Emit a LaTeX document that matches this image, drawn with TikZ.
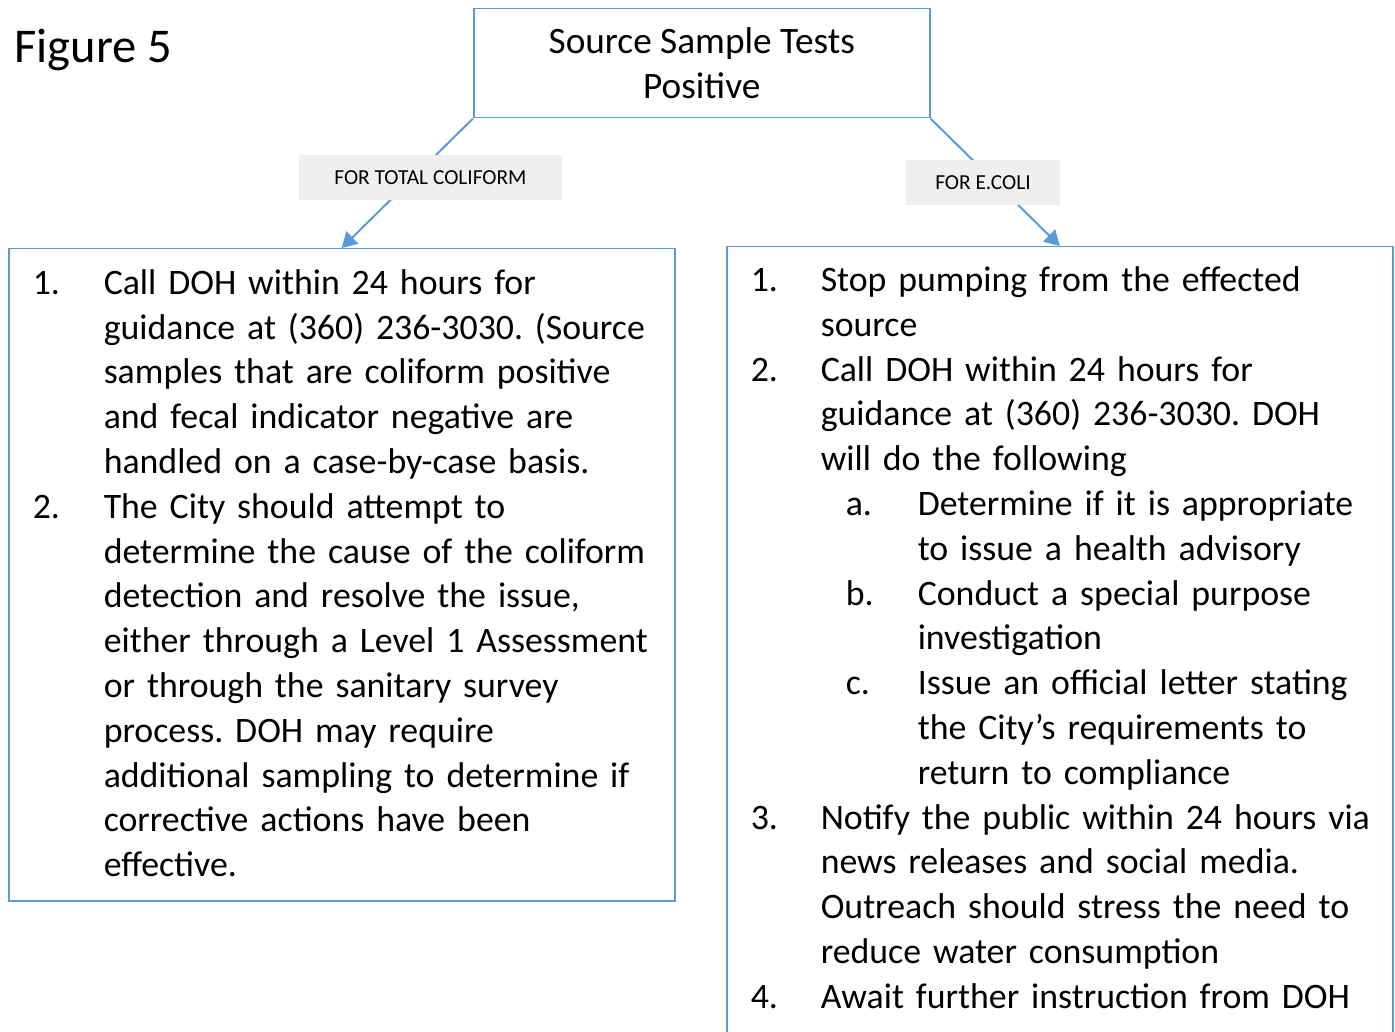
\documentclass[tikz,border=0pt]{standalone}
\usepackage{fontspec}
\setmainfont{Carlito}
\usepackage{enumitem}
\usetikzlibrary{arrows.meta,positioning}
\definecolor{linkblue}{HTML}{5B9BD5}
\definecolor{tagfill}{HTML}{EFEFEF}
\setlist{nosep}
\frenchspacing
\begin{document}
\begin{tikzpicture}[x=1pt,y=-1pt,
    box/.style={draw=linkblue,line width=1.5pt,anchor=north west,inner xsep=24pt,inner ysep=20pt,
      text width=618pt,font=\fontsize{35.8}{44.8}\selectfont\frenchspacing},
    tag/.style={fill=tagfill,inner sep=0pt,minimum height=45pt,font=\fontsize{21.4}{24}\selectfont},
    link/.style={draw=linkblue,line width=2pt,-{Triangle[length=15pt,width=17pt]}}]
        % page frame, the right box runs off the bottom
        \useasboundingbox (0,0) rectangle (1395,1032);
        \clip (0,0) rectangle (1395,1032);
        \node[anchor=base west,font=\fontsize{48.5}{50}\selectfont] (fig) at (11,63) {Figure 5};
        %% the boxes
        \node[draw=linkblue,line width=1.5pt,minimum width=456pt,minimum height=109pt,anchor=north west,
          align=center,font=\fontsize{37.3}{45}\selectfont] (top) at (473,8) {Source Sample Tests\\Positive};
        \node[box,minimum height=652pt] (coli) at (8,248) {\raggedright\vspace*{-23pt}
          \begin{enumerate}[label=\arabic*.,leftmargin=71pt,labelwidth=71pt,labelsep=0pt,align=left,rightmargin=-30pt]
            \item Call DOH within 24 hours for\\ guidance at (360) 236-3030. (Source\\ samples that are coliform positive\\ and fecal indicator negative are\\ handled on a case-by-case basis.
            \item The City should attempt to\\ determine the cause of the coliform\\ detection and resolve the issue,\\ either through a Level 1 Assessment\\ or through the sanitary survey\\ process. DOH may require\\ additional sampling to determine if\\ corrective actions have been\\ effective.
          \end{enumerate}};
        \node[box] (ecoli) at (726,246) {\raggedright\vspace*{-20pt}
          \begin{enumerate}[label=\arabic*.,leftmargin=70pt,labelwidth=70pt,labelsep=0pt,align=left,rightmargin=-30pt]
            \item Stop pumping from the effected\\ source
            \item Call DOH within 24 hours for\\ guidance at (360) 236-3030. DOH\\ will do the following
            \begin{enumerate}[label=\alph*.,leftmargin=97pt,labelindent=25pt,labelwidth=72pt,labelsep=0pt,align=left]
              \item Determine if it is appropriate\\ to issue a health advisory
              \item Conduct a special purpose\\ investigation
              \item Issue an official letter stating\\ the City’s requirements to\\ return to compliance
            \end{enumerate}
            \item Notify the public within 24 hours via\\ news releases and social media.\\ Outreach should stress the need to\\ reduce water consumption
            \item Await further instruction from DOH\rule[-28pt]{0pt}{1pt}
          \end{enumerate}};
        %% the connectors and their labels
        \draw[link] (top.south west) -- (coli.north);
        \draw[link] (top.south east) -- (ecoli.north);
        \node[tag,minimum width=263pt] (tagTC) at (430.5,177.5) {FOR TOTAL COLIFORM};
        \node[tag,minimum width=154pt] (tagEC) at (983,182.5) {FOR E.COLI};
      \end{tikzpicture}
\end{document}
